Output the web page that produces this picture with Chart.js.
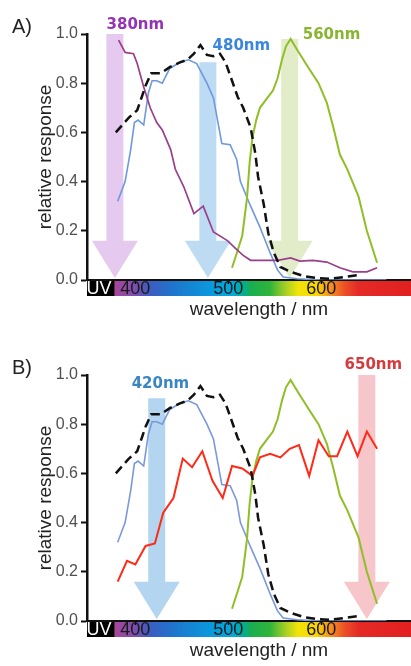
<!DOCTYPE html>
<html>
<head>
<meta charset="utf-8">
<script src="https://cdn.jsdelivr.net/npm/chart.js@4.4.1/dist/chart.umd.min.js"></script>
<style>
  html, body { margin: 0; padding: 0; background: #fff; width: 411px; height: 666px; overflow: hidden; }
  .panel { position: relative; width: 431px; height: 341px; }
  canvas { display: block; }
</style>
</head>
<body>
<div class="panel"><canvas id="chartA" width="431" height="341"></canvas></div>
<div class="panel"><canvas id="chartB" width="431" height="341"></canvas></div>
<script>
// wavelength in nm / relative response
const uvNm    = [382, 389, 398, 402, 409, 416, 423, 429, 438, 443, 452, 463, 473, 484, 499, 510, 516, 524, 538, 553, 567, 577, 591, 606, 620, 634, 649, 660];
const uvResp  = [0.975, 0.925, 0.92, 0.88, 0.785, 0.70, 0.64, 0.61, 0.53, 0.45, 0.38, 0.27, 0.30, 0.195, 0.16, 0.12, 0.10, 0.08, 0.08, 0.08, 0.09, 0.077, 0.08, 0.073, 0.05, 0.033, 0.033, 0.05];

const blueNm   = [381, 389, 395, 399, 403, 409, 414, 418, 423, 429, 437, 448, 457, 466, 477, 484, 493, 502, 509, 513, 524, 534, 545, 553, 559, 574, 600, 640, 670];
const blueResp = [0.32, 0.40, 0.53, 0.64, 0.65, 0.63, 0.76, 0.81, 0.81, 0.80, 0.86, 0.885, 0.895, 0.88, 0.80, 0.74, 0.555, 0.55, 0.49, 0.40, 0.30, 0.215, 0.11, 0.04, 0.012, 0.005, 0.0, 0.0, 0.0];

const greenNm   = [504, 510, 515, 520, 523, 526, 530, 534, 542, 548, 553, 558, 562, 567, 575, 585, 597, 606, 613, 620, 628, 640, 649, 660];
const greenResp = [0.05, 0.12, 0.18, 0.33, 0.48, 0.58, 0.65, 0.70, 0.74, 0.77, 0.82, 0.90, 0.95, 0.98, 0.93, 0.87, 0.80, 0.72, 0.62, 0.51, 0.45, 0.34, 0.20, 0.07];

const redNm   = [381, 391, 400, 411, 421, 430, 441, 451, 461, 472, 483, 494, 504, 515, 526, 534, 545, 556, 566, 576, 587, 597, 608, 617, 628, 639, 649, 660];
const redResp = [0.16, 0.245, 0.23, 0.305, 0.315, 0.44, 0.50, 0.66, 0.625, 0.69, 0.57, 0.50, 0.63, 0.62, 0.59, 0.665, 0.68, 0.665, 0.70, 0.715, 0.59, 0.735, 0.67, 0.67, 0.77, 0.67, 0.77, 0.70];

// black dashed curve (same in both panels)
const dashNm   = [379, 386, 393, 402, 407, 411, 417, 427, 437, 448, 456, 463, 470, 477, 484, 491, 497, 504, 510, 516, 524, 529, 532, 538, 543, 549, 556, 567, 581, 596, 610, 624, 640];
const dashResp = [0.60, 0.63, 0.66, 0.69, 0.745, 0.79, 0.84, 0.84, 0.865, 0.885, 0.895, 0.92, 0.955, 0.915, 0.91, 0.92, 0.885, 0.81, 0.745, 0.70, 0.62, 0.515, 0.42, 0.31, 0.19, 0.11, 0.053, 0.033, 0.016, 0.008, 0.005, 0.012, 0.02];

const xTickValues = [361, 400, 500, 600];
const xTickLabels = ['UV', '400', '500', '600'];
const yTickStep = 0.2;

// colour bar under the x axis
const specNm    = [348, 377, 378, 400, 415, 440, 480, 505, 515, 525, 545, 560, 575, 595, 610, 625, 640, 718];
const specColor = ['#000', '#000', '#a8469a', '#7a4fae', '#3d5cc0', '#1f74cc', '#0a98dc', '#00aadc', '#00ad9a', '#1aae50', '#30b43a', '#9ccc28', '#f2e40a', '#fbd400', '#f69020', '#ec5028', '#e42a26', '#e01c1c'];

const FONT = "'Liberation Sans', Arial, sans-serif";
Chart.defaults.font.family = FONT;

const pts = (xs, ys) => xs.map((v, i) => ({ x: v, y: ys[i] }));

const decor = {
  id: 'decor',
  beforeDraw(chart, args, o) {
    const { ctx, chartArea: ca, scales: { x } } = chart;
    const g = ctx.createLinearGradient(x.getPixelForValue(x.min), 0, x.getPixelForValue(x.max), 0);
    specNm.forEach((nm, i) => g.addColorStop((nm - x.min) / (x.max - x.min), specColor[i]));
    ctx.save();
    ctx.fillStyle = g;
    ctx.fillRect(ca.left, ca.bottom, ca.right - ca.left, 16);
    ctx.restore();
  },
  beforeDatasetsDraw(chart, args, o) {
    const { ctx, scales: { x, y } } = chart;
    ctx.save();
    o.arrows.forEach(a => {
      const cx = x.getPixelForValue(a.nm);
      const top = y.getPixelForValue(a.top);
      const base = y.getPixelForValue(0.16);
      const tip = y.getPixelForValue(0) - 2;
      ctx.fillStyle = a.color;
      ctx.beginPath();
      ctx.moveTo(cx - 8.5, top);
      ctx.lineTo(cx + 8.5, top);
      ctx.lineTo(cx + 8.5, base);
      ctx.lineTo(cx + 23, base);
      ctx.lineTo(cx, tip);
      ctx.lineTo(cx - 23, base);
      ctx.lineTo(cx - 8.5, base);
      ctx.closePath();
      ctx.fill();
    });
    ctx.restore();
  },
  afterDraw(chart, args, o) {
    const { ctx, scales: { x, y } } = chart;
    ctx.save();
    ctx.textBaseline = 'alphabetic';
    ctx.textAlign = 'left';
    ctx.font = "bold 15px 'DejaVu Sans', sans-serif";
    o.labels.forEach(l => {
      ctx.fillStyle = l.color;
      ctx.fillText(l.text, x.getPixelForValue(l.nm), y.getPixelForValue(l.val));
    });
    ctx.font = '20px ' + FONT;
    ctx.fillStyle = '#222';
    ctx.fillText(o.panel, 12, 33);
    ctx.restore();
  }
};

function makeChart(id, sets, arrows, labels, panel) {
  return new Chart(document.getElementById(id), {
    type: 'line',
    data: { datasets: sets },
    plugins: [decor],
    options: {
      responsive: false,
      animation: false,
      layout: { padding: { top: 34, right: 0, bottom: 20, left: 0 } },
      elements: { point: { radius: 0 }, line: { tension: 0, fill: false } },
      plugins: {
        legend: { display: false },
        tooltip: { enabled: false },
        decor: { arrows: arrows, labels: labels, panel: panel }
      },
      scales: {
        x: {
          type: 'linear', min: 348, max: 718,
          afterBuildTicks: s => { s.ticks = xTickValues.map(v => ({ value: v })); },
          afterFit: s => { s.height = 41; },
          ticks: {
            autoSkip: false, maxRotation: 0, padding: -6,
            font: { size: 18 },
            color: c => (c.tick && c.tick.value < 380) ? '#fff' : '#1a1a1a',
            callback: v => xTickLabels[xTickValues.indexOf(v)]
          },
          grid: {
            drawOnChartArea: false, tickLength: 4, tickWidth: 1.5,
            tickColor: c => (c.tick && c.tick.value < 380) ? 'rgba(0,0,0,0)' : '#000'
          },
          border: { color: '#111', width: 2 },
          title: { display: true, text: 'wavelength / nm', font: { size: 19 }, color: '#222', padding: 0 }
        },
        y: {
          min: 0, max: 1,
          afterFit: s => { s.width = 87; },
          ticks: { stepSize: yTickStep, padding: 3, font: { size: 16 }, color: '#505050', callback: v => v.toFixed(1) },
          grid: { drawOnChartArea: false, tickLength: 6, tickWidth: 2, tickColor: '#111' },
          border: { color: '#111', width: 2.5 },
          title: { display: true, text: 'relative response', font: { size: 19 }, color: '#222', padding: { top: 34, bottom: 0 } }
        }
      }
    }
  });
}

const dashSet = () => ({ data: pts(dashNm, dashResp), borderColor: '#111', borderWidth: 2.5, borderDash: [9, 5] });
const greenSet = () => ({ data: pts(greenNm, greenResp), borderColor: '#8fbf26', borderWidth: 2 });
const blueSet = c => ({ data: pts(blueNm, blueResp), borderColor: c, borderWidth: 1.6 });

makeChart('chartA', [
  dashSet(),
  { data: pts(uvNm, uvResp), borderColor: '#9a3f8a', borderWidth: 1.7 },
  greenSet(),
  blueSet('#6f98de')
], [
  { nm: 378, top: 1.0, color: '#e5c9ef' },
  { nm: 478, top: 0.885, color: '#bddcf4' },
  { nm: 566, top: 0.98, color: '#e3ecc8' }
], [
  { text: '380nm', nm: 369, val: 1.02, color: '#9433b4' },
  { text: '480nm', nm: 483, val: 0.935, color: '#3a86de' },
  { text: '560nm', nm: 580, val: 0.98, color: '#8ab530' }
], 'A)');

makeChart('chartB', [
  dashSet(),
  { data: pts(redNm, redResp), borderColor: '#ff2a17', borderWidth: 2 },
  greenSet(),
  blueSet('#7b98dc')
], [
  { nm: 423, top: 0.905, color: '#b4d5ef' },
  { nm: 649, top: 1.0, color: '#f7c6ca' }
], [
  { text: '420nm', nm: 396, val: 0.947, color: '#3a86c4' },
  { text: '650nm', nm: 625, val: 1.024, color: '#d63a3e' }
], 'B)');
</script>
</body>
</html>
